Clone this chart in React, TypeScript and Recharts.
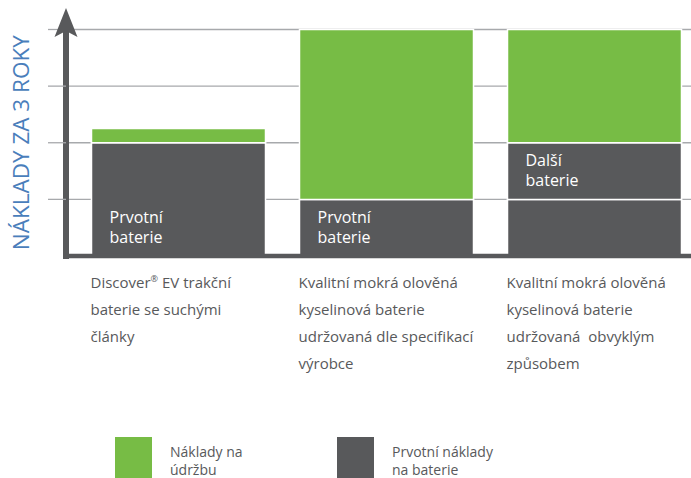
import React from 'react';
import { BarChart, Bar, XAxis, YAxis, CartesianGrid, LabelList } from 'recharts';

const categories = [
  'Discover® EV trakční\nbaterie se suchými\nčlánky',
  'Kvalitní mokrá olověná\nkyselinová baterie\nudržovaná dle specifikací\nvýrobce',
  'Kvalitní mokrá olověná\nkyselinová baterie\nudržovaná  obvyklým\nzpůsobem',
];
const primaryCost = [2, 1, 1];
const nextBatteryCost = [0, 0, 1];
const maintenanceCost = [0.25, 3, 2];
const primaryLabels = ['Prvotní\nbaterie', 'Prvotní\nbaterie', ''];
const nextLabels = ['', '', 'Další\nbaterie'];
const yTicks = [1, 2, 3, 4];
const yTitle = 'NÁKLADY ZA 3 ROKY';
const legendItems = [
  { key: 'maintenance', text: ['Náklady na', 'údržbu'] },
  { key: 'primary', text: ['Prvotní náklady', 'na baterie'] },
];

const GREEN = '#77bc45';
const DARK = '#58595b';
const BLUE = '#4a7ebb';
const GRID = '#a7a9ac';
const FONT = '"Open Sans", sans-serif';

const data = categories.map((name, i) => ({
  name,
  primary: primaryCost[i],
  next: nextBatteryCost[i],
  maintenance: maintenanceCost[i],
  primaryLabel: primaryLabels[i],
  nextLabel: nextLabels[i],
}));

const BAR_SIZE = 174;

function CategoryTick(props: any) {
  const { x, y, payload } = props;
  const lines = String(payload.value).split('\n');
  const left = x - BAR_SIZE / 2 - 1;
  return (
    <text x={left} y={y} fill={DARK} fontSize={15} fontFamily={FONT} textAnchor="start" style={{ whiteSpace: 'pre' }}>
      {lines.map((line, i) => {
        const parts = line.split('®');
        return (
          <tspan key={i} x={left} y={y + 32 + i * 27}>
            {parts[0]}
            {parts.length > 1 && (
              <tspan fontSize={9} dy={-6}>®</tspan>
            )}
            {parts.length > 1 && <tspan dy={6}>{parts[1]}</tspan>}
          </tspan>
        );
      })}
    </text>
  );
}

function SegmentLabel(props: any) {
  const { x, y, height, value } = props;
  if (!value) return null;
  const lines = String(value).split('\n');
  const bottom = y + height;
  return (
    <text fill="#ffffff" fontSize={16} fontFamily={FONT}>
      {lines.map((line, i) => (
        <tspan key={i} x={x + 18} y={bottom - 33 + i * 20}>
          {line}
        </tspan>
      ))}
    </text>
  );
}

function EmptyTick() {
  return <g />;
}

function AxisDecor(props: any) {
  const vb = props.viewBox || {};
  const ax = vb.x + vb.width;
  const top = vb.y;
  const cy = vb.y + vb.height / 2;
  return (
    <g>
      <polygon
        points={`${ax},${top - 21.5} ${ax + 11.5},${top + 7.5} ${ax},${top + 1.5} ${ax - 11.5},${top + 7.5}`}
        fill={DARK}
      />
      <text
        x={20}
        y={cy}
        transform={`rotate(-90, 20, ${cy})`}
        textAnchor="middle"
        dominantBaseline="central"
        fontSize={22.5}
        fontFamily={FONT}
        fill={BLUE}
      >
        {yTitle}
      </text>
    </g>
  );
}

const colorFor: Record<string, string> = { maintenance: GREEN, primary: DARK };
const legendX = [115, 337];

export default function App() {
  return (
    <div style={{ position: 'absolute', left: 0, top: 0, width: 691, height: 478, overflow: 'hidden', background: '#fff' }}>
      <BarChart
        width={700}
        height={478}
        data={data}
        margin={{ top: 29.5, right: 1.5, left: 0, bottom: 0 }}
        barSize={BAR_SIZE}
      >
        <CartesianGrid vertical={false} stroke={GRID} strokeWidth={1.3} />
        <XAxis
          dataKey="name"
          height={222}
          padding={{ left: 8.5, right: 0 }}
          tickLine={false}
          tickSize={0}
          tickMargin={0}
          axisLine={{ stroke: DARK, strokeWidth: 4.5, strokeLinecap: 'square' }}
          tick={<CategoryTick />}
          interval={0}
        />
        <YAxis
          width={66}
          domain={[0, 4]}
          ticks={yTicks}
          tick={<EmptyTick />}
          tickSize={18}
          tickLine={{ stroke: GRID, strokeWidth: 1.3 }}
          axisLine={{ stroke: DARK, strokeWidth: 6, strokeLinecap: 'square' }}
          label={(p: any) => <AxisDecor viewBox={p.viewBox} />}
        />
        <Bar dataKey="primary" stackId="a" fill={DARK} stroke="#fff" strokeWidth={1.5} isAnimationActive={false}>
          <LabelList dataKey="primaryLabel" content={<SegmentLabel />} />
        </Bar>
        <Bar dataKey="next" stackId="a" fill={DARK} stroke="#fff" strokeWidth={1.5} isAnimationActive={false}>
          <LabelList dataKey="nextLabel" content={<SegmentLabel />} />
        </Bar>
        <Bar dataKey="maintenance" stackId="a" fill={GREEN} stroke="#fff" strokeWidth={1.5} isAnimationActive={false} />
      </BarChart>
      {legendItems.map((item, i) => (
        <div key={item.key} style={{ position: 'absolute', left: legendX[i], top: 437 }}>
          <div style={{ position: 'absolute', left: 0, top: 0, width: 37, height: 45, background: colorFor[item.key] }} />
          <div
            style={{
              position: 'absolute',
              left: 55,
              top: 6,
              whiteSpace: 'nowrap',
              fontFamily: FONT,
              fontSize: 14,
              lineHeight: '18px',
              color: DARK,
            }}
          >
            {item.text.map((t, j) => (
              <div key={j}>{t}</div>
            ))}
          </div>
        </div>
      ))}
    </div>
  );
}
